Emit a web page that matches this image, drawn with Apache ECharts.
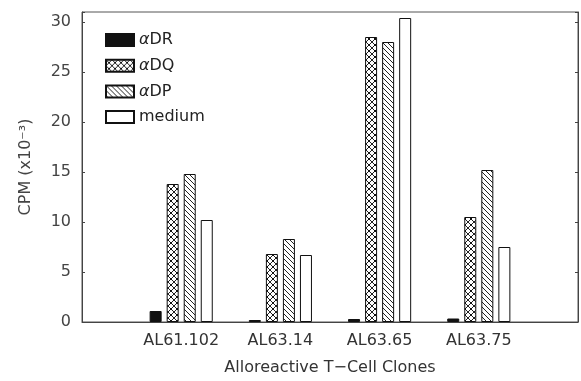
<!DOCTYPE html>
<html>
<head>
<meta charset="utf-8">
<script src="https://cdn.jsdelivr.net/npm/echarts@6/dist/echarts.min.js"></script>
<style>
html,body{margin:0;padding:0;background:#fff;}
#chart{width:581px;height:381px;}
</style>
</head>
<body>
<div id="chart"></div>
<script>
const categories = ['AL61.102', 'AL63.14', 'AL63.65', 'AL63.75'];
const seriesNames = ['αDR', 'αDQ', 'αDP', 'medium'];
const aDR = [1.1, 0.2, 0.3, 0.35];
const aDQ = [13.8, 6.8, 28.5, 10.5];
const aDP = [14.8, 8.3, 28.0, 15.2];
const medium = [10.2, 6.7, 30.4, 7.5];
const yTicks = [0, 5, 10, 15, 20, 25, 30];

function pad(arr) { return ['-'].concat(arr, ['-']); }
const xCats = [''].concat(categories, ['']);

function makePattern(kind) {
  const s = kind === 'cross' ? 6 : 5;
  const c = document.createElement('canvas');
  c.width = s; c.height = s;
  const g = c.getContext('2d');
  g.fillStyle = '#fff';
  g.fillRect(0, 0, s, s);
  g.strokeStyle = '#222';
  g.lineWidth = 1;
  g.beginPath();
  for (const k of [-s, 0, s]) {
    g.moveTo(-1, -1 + k); g.lineTo(s + 1, s + 1 + k);
    if (kind === 'cross') { g.moveTo(-1, s + 1 + k); g.lineTo(s + 1, -1 + k); }
  }
  g.stroke();
  if (kind === 'cross') {
    g.fillStyle = '#111';
    g.fillRect(s / 2 - 1, s / 2 - 1, 2, 2);
  }
  return { image: c, repeat: 'repeat' };
}

const fills = ['#111', makePattern('cross'), makePattern('diag'), '#fff'];
const values = [aDR, aDQ, aDP, medium];

const chart = echarts.init(document.getElementById('chart'), null, { renderer: 'canvas' });
const font = 'DejaVu Sans';
const option = {
  animation: false,
  backgroundColor: '#fff',
  grid: { left: 82, right: 2, top: 12, bottom: 58, show: true, borderColor: '#555', borderWidth: 1 },
  legend: {
    orient: 'vertical', left: 105, top: 32, padding: 0,
    itemWidth: 28, itemHeight: 12, itemGap: 9.7,
    icon: 'rect',
    data: seriesNames,
    formatter: function (n) { return n.replace('α', '{i|α}'); },
    textStyle: { fontFamily: font, fontSize: 16, color: '#222', lineHeight: 14,
      rich: { i: { fontStyle: 'italic', fontFamily: font, fontSize: 16, color: '#222' } } }
  },
  xAxis: {
    type: 'category', data: xCats, boundaryGap: false,
    axisLine: { show: true, lineStyle: { color: '#444', width: 1 } },
    axisTick: { show: false },
    axisLabel: { fontFamily: font, fontSize: 16, color: '#333', margin: 11, interval: 0 },
    name: 'Alloreactive T\u2212Cell Clones', nameLocation: 'middle', nameGap: 38,
    nameTextStyle: { fontFamily: font, fontSize: 16, color: '#333', letterSpacing: 0.5 },
    splitLine: { show: false }
  },
  yAxis: [{
    type: 'value', min: 0, max: 31, interval: 5,
    axisLine: { show: true, lineStyle: { color: '#444', width: 1 } },
    axisTick: { show: true, inside: true, length: 3, lineStyle: { color: '#444' } },
    axisLabel: { fontFamily: font, fontSize: 16, color: '#444', margin: 11,
      formatter: function (v) { return yTicks.indexOf(v) >= 0 ? String(v) : ''; } },
    splitLine: { show: false },
    name: 'CPM (x10\u207B\u00B3)', nameLocation: 'middle', nameGap: 48,
    nameTextStyle: { fontFamily: font, fontSize: 16, color: '#444', letterSpacing: 1 }
  }, {
    type: 'value', min: 0, max: 31, interval: 5, position: 'right',
    axisLine: { show: true, lineStyle: { color: '#444', width: 1 } },
    axisTick: { show: true, inside: true, length: 3, lineStyle: { color: '#444' } },
    axisLabel: { show: false },
    splitLine: { show: false }
  }],
  series: seriesNames.map(function (n, i) {
    return {
      name: n, type: 'bar', data: pad(values[i]),
      barWidth: 12, barGap: '42%',
      itemStyle: { color: fills[i], borderColor: '#111', borderWidth: 1 }
    };
  })
};
chart.setOption(option);
</script>
</body>
</html>
